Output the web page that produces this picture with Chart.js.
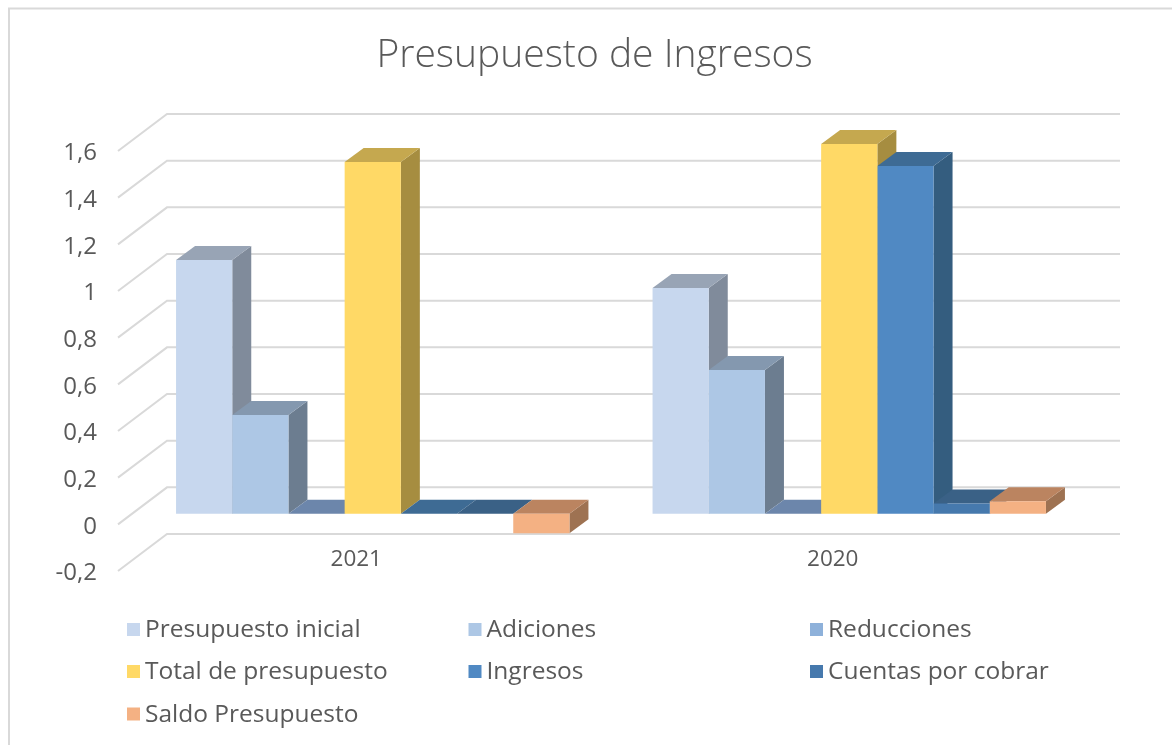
<!DOCTYPE html>
<html lang="es">
<head>
<meta charset="utf-8">
<title>Presupuesto de Ingresos</title>
<style>html,body{margin:0;padding:0;background:#fff;overflow:hidden}canvas{display:block}</style>
<script src="https://cdn.jsdelivr.net/npm/chart.js@4"></script>
</head>
<body>
<canvas id="c" width="1172" height="745"></canvas>
<script>
const categories = ['2021', '2020'];
const seriesNames = ['Presupuesto inicial','Adiciones','Reducciones','Total de presupuesto','Ingresos','Cuentas por cobrar','Saldo Presupuesto'];
const presupuestoInicial = [1.087, 0.967];
const adiciones = [0.423, 0.616];
const reducciones = [0, 0];
const totalPresupuesto = [1.507, 1.585];
const ingresos = [0, 1.49];
const cuentasPorCobrar = [0, 0.044];
const saldoPresupuesto = [-0.084, 0.054];
const seriesValues = [presupuestoInicial, adiciones, reducciones, totalPresupuesto, ingresos, cuentasPorCobrar, saldoPresupuesto];
const frontColors = ['#c7d7ee','#adc7e5','#8eb1da','#ffd966','#5089c3','#4679ad','#f4b183'];
const topColors   = ['#98a4b5','#8498af','#6c86ab','#c5a84f','#3e6b94','#3a6186','#bb8460'];
const sideColors  = ['#808b9b','#6c7d90','#5d7290','#a68d40','#345d7f','#2f4f6f','#9e7252'];

const FONT = '"Open Sans", Lato, sans-serif';
const TEXT = '#595959';
const GRID = '#d9d9d9';
const wall = {dx: 49, dy: 37};
const barShift = {dx: 16.5, dy: 10.6};
const barDepth = {dx: 19, dy: 14};
const legendCols = [127, 468.5, 810];
const legendRows = [629.5, 671.5, 714];

function poly(ctx, pts, color) {
  ctx.beginPath();
  pts.forEach((p, i) => i ? ctx.lineTo(p[0], p[1]) : ctx.moveTo(p[0], p[1]));
  ctx.closePath();
  ctx.fillStyle = color;
  ctx.fill();
}

const scene3d = {
  id: 'scene3d',
  beforeDraw(chart) {
    const ctx = chart.ctx;
    ctx.save();
    ctx.strokeStyle = GRID;
    ctx.lineWidth = 2;
    ctx.beginPath();
    ctx.moveTo(9, 745); ctx.lineTo(9, 8.5); ctx.lineTo(1172, 8.5);
    ctx.stroke();
    ctx.restore();
  },
  beforeDatasetsDraw(chart) {
    const ctx = chart.ctx, y = chart.scales.y, a = chart.chartArea;
    ctx.save();
    ctx.strokeStyle = GRID;
    ctx.lineWidth = 2;
    y.ticks.forEach(t => {
      const p = y.getPixelForValue(t.value);
      ctx.beginPath();
      ctx.moveTo(a.left, p);
      ctx.lineTo(a.left + wall.dx, p - wall.dy);
      ctx.lineTo(a.right + wall.dx, p - wall.dy);
      ctx.stroke();
    });
    ctx.restore();
    // depth faces of all bars, painted left to right; the fronts follow from the library
    ctx.save();
    ctx.translate(barShift.dx, -barShift.dy);
    categories.forEach((_, c) => {
      seriesNames.forEach((__, i) => {
        const b = chart.getDatasetMeta(i).data[c].getProps(['x','y','base','width'], true);
        const x0 = b.x - b.width / 2, x1 = b.x + b.width / 2;
        const t = Math.min(b.y, b.base), u = Math.max(b.y, b.base);
        const d = barDepth;
        poly(ctx, [[x1,t],[x1+d.dx,t-d.dy],[x1+d.dx,u-d.dy],[x1,u]], sideColors[i]);
        poly(ctx, [[x0,t],[x0+d.dx,t-d.dy],[x1+d.dx,t-d.dy],[x1,t]], topColors[i]);
      });
    });
  },
  afterDatasetsDraw(chart) {
    chart.ctx.restore();
  },
  afterDraw(chart) {
    const ctx = chart.ctx;
    ctx.save();
    ctx.font = '24.5px ' + FONT;
    ctx.textBaseline = 'middle';
    seriesNames.forEach((name, i) => {
      const x = legendCols[i % 3], y = legendRows[Math.floor(i / 3)];
      ctx.fillStyle = frontColors[i];
      ctx.fillRect(x, y - 6.5, 13, 13);
      ctx.fillStyle = TEXT;
      ctx.fillText(name, x + 18, y + 1);
    });
    ctx.restore();
  }
};

new Chart(document.getElementById('c'), {
  type: 'bar',
  data: {
    labels: categories,
    datasets: seriesNames.map((name, i) => ({
      label: name,
      data: seriesValues[i],
      backgroundColor: frontColors[i],
      borderWidth: 0,
      categoryPercentage: 0.8256,
      barPercentage: 1,
      clip: false
    }))
  },
  options: {
    responsive: false,
    animation: false,
    layout: {padding: {left: 18, right: 101, top: 0, bottom: 0}},
    plugins: {
      legend: {display: false},
      tooltip: {enabled: false},
      title: {
        display: true,
        text: 'Presupuesto de Ingresos',
        fullSize: false,
        color: TEXT,
        font: {family: FONT, size: 39, weight: '300', lineHeight: 1.2},
        padding: {top: 32, bottom: 72.2}
      }
    },
    scales: {
      x: {
        grid: {display: false, drawTicks: false},
        border: {display: false},
        ticks: {color: TEXT, font: {family: FONT, size: 22.5}, mirror: true, padding: -2, maxRotation: 0},
        afterFit(s) { s.height = 174; }
      },
      y: {
        min: -0.2,
        max: 1.6,
        grid: {display: false, drawTicks: false},
        border: {display: false},
        ticks: {
          stepSize: 0.2,
          color: TEXT,
          font: {family: FONT, size: 24},
          padding: 21,
          labelOffset: 2.5,
          callback: v => String(Math.round(v * 10) / 10).replace('.', ',')
        },
        afterFit(s) { s.width = 100; }
      }
    }
  },
  plugins: [scene3d]
});
</script>
</body>
</html>
